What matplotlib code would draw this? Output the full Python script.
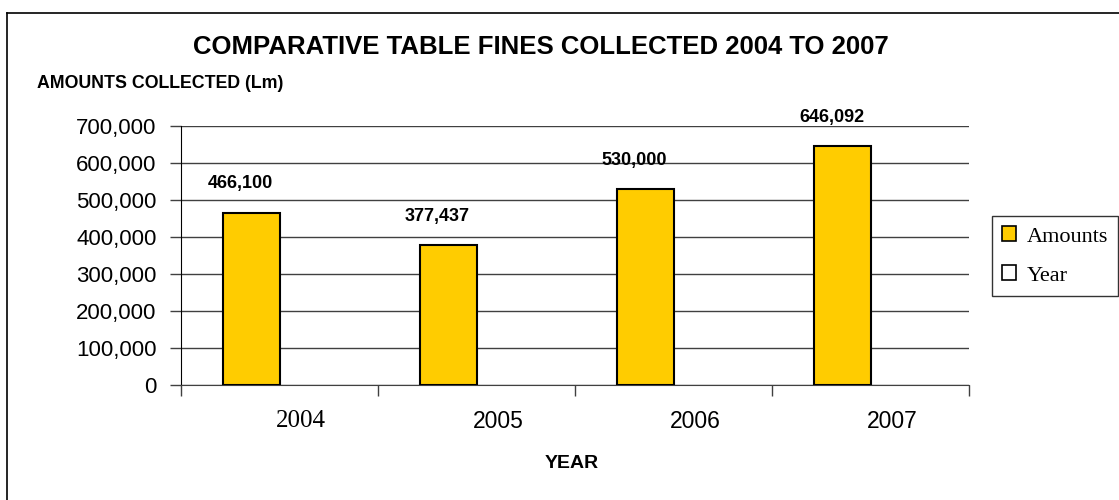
import matplotlib
matplotlib.use("Agg")
import matplotlib.pyplot as plt
from matplotlib.lines import Line2D
from matplotlib.patches import Patch

# DATA ---------------------------------------------------------------
years = ["2004", "2005", "2006", "2007"]
amounts = [466100, 377437, 530000, 646092]
y_ticks = [0, 100000, 200000, 300000, 400000, 500000, 600000, 700000]

# the 2004 label came out in Times in the original, the rest in Arial
year_fonts = ["Liberation Serif", "Liberation Sans", "Liberation Sans", "Liberation Sans"]
year_sizes = [18, 16.5, 16.5, 16.5]

plt.rcParams["font.family"] = ["Liberation Sans", "DejaVu Sans"]

fig = plt.figure(figsize=(11.19, 5.0), dpi=100)
ax = fig.add_axes([181 / 1119, 1 - 385 / 500, (969 - 181) / 1119, (385 - 126) / 500])

# bars (empty "Year" series takes the right half of each slot)
w = 1 / 3.5
xs = range(len(years))
ax.bar([x - w for x in xs], amounts, width=w, align="edge",
       color="#FFCC00", edgecolor="black", linewidth=1.5, zorder=3)

for x, v in zip(xs, amounts):
    ax.text(x - w / 2 - 0.055, v + 77500, f"{v:,}", ha="center", va="center",
            fontsize=13, fontweight="bold", clip_on=False, zorder=4)

# axes ---------------------------------------------------------------
ax.set_xlim(-0.5, 3.5)
ax.set_ylim(0, 700000)
ax.set_yticks(y_ticks)
ax.set_yticklabels([f"{t:,}" for t in y_ticks], fontsize=16)
ax.yaxis.grid(True, color="#404040", linewidth=1, zorder=0)
ax.tick_params(axis="y", length=8, width=1, color="#404040", pad=9.5)

ax.set_xticks([x - 0.5 for x in range(len(years) + 1)])
ax.set_xticklabels([])
ax.tick_params(axis="x", length=8, width=1, color="#404040")
for x, yr, fam, fs in zip(xs, years, year_fonts, year_sizes):
    ax.text(x + 0.11, -0.14, yr, transform=ax.get_xaxis_transform(),
            ha="center", va="center", fontsize=fs, fontfamily=fam)

for s in ["top", "right"]:
    ax.spines[s].set_visible(False)
ax.spines["left"].set_color("black")
ax.spines["bottom"].set_color("#404040")

fig.text(572 / 1119, 1 - 463 / 500, "YEAR", ha="center", va="center",
         fontsize=14, fontweight="bold")
fig.text(541 / 1119, 1 - 47 / 500, "COMPARATIVE TABLE FINES COLLECTED 2004 TO 2007",
         ha="center", va="center", fontsize=18.5, fontweight="bold")
fig.text(37 / 1119, 1 - 84 / 500, "AMOUNTS COLLECTED (Lm)", ha="left", va="center",
         fontsize=12.8, fontweight="bold")

# legend
handles = [Patch(facecolor="#FFCC00", edgecolor="black", linewidth=1.2, label="Amounts"),
           Patch(facecolor="white", edgecolor="black", linewidth=1.2, label="Year")]
leg = fig.legend(handles=handles, loc="center left",
                 bbox_to_anchor=(992 / 1119, 1 - 256 / 500),
                 prop={"family": "Liberation Serif", "size": 16},
                 frameon=True, fancybox=False, edgecolor="black",
                 handlelength=0.65, handleheight=0.65, handletextpad=0.45,
                 labelspacing=0.85, borderpad=0.45, borderaxespad=0)
leg.get_frame().set_linewidth(1)

# outer chart frame (only top and left visible in the crop)
fig.add_artist(Line2D([7 / 1119, 7 / 1119], [0, 1 - 13 / 500], color="black", lw=1.2))
fig.add_artist(Line2D([7 / 1119, 1], [1 - 13 / 500, 1 - 13 / 500], color="black", lw=1.2))

fig.savefig("out.png", dpi=100)
